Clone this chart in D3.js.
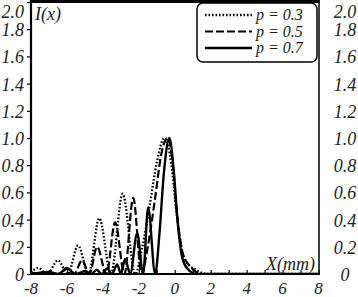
<!DOCTYPE html>
<html><head><meta charset="utf-8">
<script src="https://cdn.jsdelivr.net/npm/d3@7"></script>
<style>body{margin:0;background:#fff}svg{display:block}text{font-family:"Liberation Serif","DejaVu Serif",serif;font-style:italic;fill:#222}</style>
</head><body><svg id="c" width="358" height="297"></svg>
<script>
const xTicks=[-8,-6,-4,-2,0,2,4,6,8];
const yTicks=[0,0.2,0.4,0.6,0.8,1.0,1.2,1.4,1.6,1.8,2.0];
const yTickLabels=["0","0.2","0.4","0.6","0.8","1.0","1.2","1.4","1.6","1.8","2.0"];
const seriesNames=["p = 0.3","p = 0.5","p = 0.7"];
// p=0.3 (dotted)
const p03x=[-8,-7.6,-7.1,-6.5,-5.95,-5.38,-4.8,-4.2,-3.55,-2.9,-2.2,-1.8,-1.4,-1.0,-0.57,-0.2,0.1,0.45,0.7,1.2,1.8,8];
const p03y=[0.01,0.045,0,0.10,0,0.21,0,0.41,0,0.59,0,0.2,0.5,0.82,1.0,0.82,0.45,0.15,0.08,0.03,0,0];
// p=0.5 (dashed)
const p05x=[-8,-7.6,-7.1,-6.5,-6.0,-5.6,-5.16,-4.75,-4.32,-3.8,-3.32,-2.8,-2.31,-1.85,-1.5,-1.1,-0.75,-0.4,-0.1,0.1,0.45,0.9,1.5,8];
const p05y=[0.01,0,0.015,0,0.045,0,0.1,0,0.2,0,0.38,0,0.56,0,0.2,0.55,0.88,1.0,0.8,0.48,0.15,0.05,0,0];
// p=0.7 (solid)
const p07x=[-8,-7.0,-6.5,-6.0,-5.5,-5.0,-4.65,-4.35,-4.05,-3.76,-3.5,-3.2,-3.0,-2.76,-2.48,-2.09,-1.76,-1.48,-1.09,-0.85,-0.6,-0.3,-0.05,0.15,0.42,0.7,1.2,8];
const p07y=[0.0,0.015,0,0.04,0,0.02,0,0.03,0,0.04,0,0.07,0,0.11,0,0.3,0,0.49,0,0.3,0.75,1.0,0.75,0.4,0.12,0.04,0,0];

const svg=d3.select("#c");
const x=d3.scaleLinear().domain([-8,8]).range([31,318.5]);
const y=d3.scaleLinear().domain([0,2]).range([274,2]);

svg.append("clipPath").attr("id","cl").append("rect").attr("x",31).attr("y",2).attr("width",287.5).attr("height",272);

const line=d3.line().x(d=>x(d[0])).y(d=>y(d[1])).curve(d3.curveMonotoneX);
const series=[
 {xs:p03x,ys:p03y,dash:"1.6,1.9",w:2.3},
 {xs:p05x,ys:p05y,dash:"8,3",w:2.2},
 {xs:p07x,ys:p07y,dash:null,w:2.4}
];
const g=svg.append("g").attr("clip-path","url(#cl)");
series.forEach(s=>{
  g.append("path").datum(s.xs.map((v,i)=>[v,s.ys[i]])).attr("d",line)
   .attr("fill","none").attr("stroke","#000").attr("stroke-width",s.w)
   .attr("stroke-dasharray",s.dash).attr("stroke-linejoin","round");
});

// bottom axis, ticks inward every 1
const xb=d3.axisBottom(x).tickValues(d3.range(-8,9,1)).tickSize(-4).tickFormat("");
const ax=svg.append("g").attr("transform","translate(0,274)").call(xb);
ax.select(".domain").remove();
ax.selectAll("line").attr("stroke","#000").attr("stroke-width",1.2);
svg.selectAll(".xl").data(xTicks).enter().append("text").attr("class","xl")
  .attr("x",d=>x(d)).attr("y",288).attr("text-anchor","middle").attr("dominant-baseline","central").attr("font-size",17).text(d=>d<0?"-"+Math.abs(d):d);

// left axis ticks outward
const yl=d3.axisLeft(y).tickValues(yTicks).tickSize(4).tickFormat("");
const ay=svg.append("g").attr("transform","translate(31,0)").call(yl);
ay.select(".domain").remove();
ay.selectAll("line").attr("stroke","#000").attr("stroke-width",1.2);
svg.selectAll(".yl").data(yTicks).enter().append("text").attr("class","yl")
  .attr("x",24).attr("y",d=>Math.max(y(d)+7,18)).attr("text-anchor","end").attr("font-size",18).text((d,i)=>yTickLabels[i]);
svg.selectAll(".yr").data(yTicks).enter().append("text").attr("class","yr")
  .attr("x",345).attr("y",d=>Math.max(y(d)+7,18)).attr("text-anchor","middle").attr("font-size",18).text((d,i)=>yTickLabels[i]);

// frame
svg.append("line").attr("x1",31).attr("x2",319.5).attr("y1",1.5).attr("y2",1.5).attr("stroke","#000").attr("stroke-width",3);
svg.append("line").attr("x1",31).attr("x2",31).attr("y1",0).attr("y2",275).attr("stroke","#000").attr("stroke-width",2.2);
svg.append("line").attr("x1",30).attr("x2",319.5).attr("y1",274).attr("y2",274).attr("stroke","#000").attr("stroke-width",2.2);
svg.append("line").attr("x1",319).attr("x2",319).attr("y1",0).attr("y2",275).attr("stroke","#000").attr("stroke-width",1.5);

svg.append("text").attr("x",35).attr("y",20).attr("font-size",18).text("I(x)");
svg.append("text").attr("x",315).attr("y",270).attr("text-anchor","end").attr("font-size",18).text("X(mm)");

// legend
svg.append("rect").attr("x",197).attr("y",3).attr("width",120).attr("height",59).attr("rx",6)
  .attr("fill","#fff").attr("stroke","#000").attr("stroke-width",1.5);
series.forEach((s,i)=>{
  const yy=15+i*16.5;
  svg.append("line").attr("x1",205).attr("x2",252).attr("y1",yy).attr("y2",yy)
    .attr("stroke","#000").attr("stroke-width",s.w).attr("stroke-dasharray",s.dash);
  svg.append("text").attr("x",256).attr("y",yy+5).attr("font-size",16).text(seriesNames[i]);
});
</script></body></html>
